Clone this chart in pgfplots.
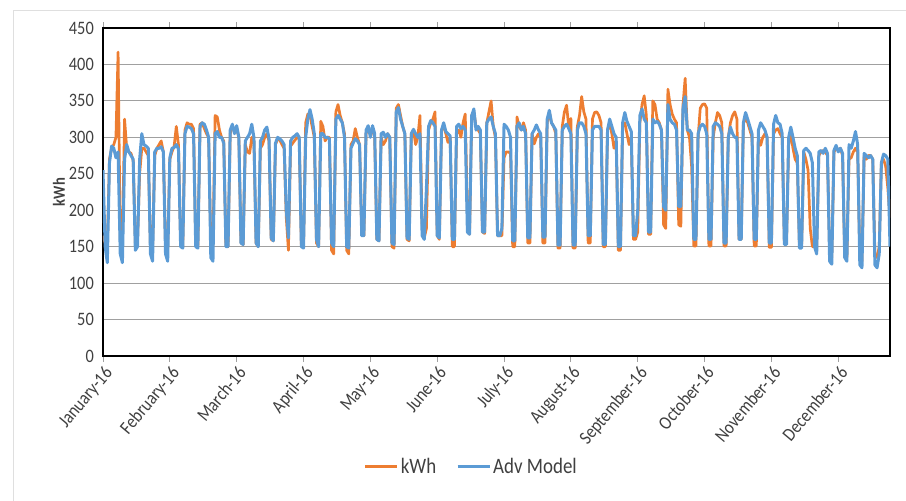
\documentclass[border=0pt]{standalone}
\usepackage{fontspec}
\setmainfont{Carlito}[FakeStretch=0.86]
\usepackage{pgfplots}
\usepackage{pgfplotstable}
\pgfplotsset{compat=1.18}

\definecolor{kwhorange}{HTML}{ED7D31}
\definecolor{advblue}{HTML}{5B9BD5}
\definecolor{txtgray}{HTML}{404040}
\definecolor{gridgray}{HTML}{A0A0A0}

% Daily consumption for 2016 (day 0 = 1 Jan) and the model estimate
\pgfplotstableread{
day kwh model
0 165 255
1 155 150
2 150 128
3 270 265
4 285 288
5 290 285
6 300 272
7 417 280
8 160 140
9 150 128
10 325 270
11 285 290
12 280 280
13 278 275
14 268 270
15 155 145
16 158 150
17 250 270
18 285 305
19 285 290
20 280 288
21 275 285
22 150 140
23 150 130
24 275 280
25 285 285
26 290 285
27 295 287
28 280 280
29 150 140
30 148 130
31 270 272
32 280 285
33 288 286
34 315 290
35 290 284
36 155 150
37 150 148
38 310 305
39 320 315
40 318 314
41 318 312
42 312 305
43 155 150
44 150 148
45 318 315
46 320 320
47 312 318
48 305 310
49 300 300
50 155 135
51 152 130
52 330 305
53 328 308
54 310 300
55 300 300
56 295 292
57 152 150
58 150 150
59 305 310
60 315 318
61 310 305
62 312 316
63 300 300
64 155 155
65 153 153
66 290 295
67 280 300
68 278 305
69 300 318
70 295 300
71 155 155
72 150 150
73 285 295
74 290 300
75 300 310
76 305 314
77 295 298
78 160 162
79 158 158
80 290 292
81 298 300
82 296 298
83 290 295
84 285 290
85 190 200
86 145 162
87 288 295
88 292 300
89 296 302
90 300 305
91 298 300
92 152 150
93 150 148
94 320 300
95 332 325
96 330 338
97 315 325
98 300 305
99 155 160
100 150 150
101 322 305
102 315 305
103 295 300
104 300 300
105 300 298
106 145 155
107 140 150
108 335 325
109 345 330
110 330 325
111 320 320
112 305 300
113 145 150
114 140 148
115 290 285
116 295 292
117 312 298
118 300 295
119 290 290
120 168 165
121 165 165
122 305 310
123 312 316
124 305 300
125 310 316
126 300 305
127 160 160
128 158 158
129 300 305
130 290 307
131 295 300
132 305 305
133 300 300
134 150 155
135 148 153
136 340 335
137 345 341
138 330 325
139 315 315
140 305 305
141 160 162
142 158 160
143 305 305
144 310 311
145 290 305
146 300 300
147 330 305
148 180 165
149 162 160
150 175 230
151 310 315
152 320 323
153 325 320
154 335 315
155 165 165
156 160 162
157 310 310
158 315 320
159 305 308
160 293 305
161 300 302
162 150 160
163 150 160
164 305 315
165 310 318
166 300 312
167 320 315
168 332 310
169 200 170
170 167 167
171 330 330
172 335 339
173 315 310
174 310 315
175 305 310
176 170 170
177 168 170
178 320 320
179 335 325
180 350 328
181 315 315
182 300 305
183 165 165
184 165 165
185 165 175
186 272 318
187 280 315
188 280 310
189 278 300
190 150 158
191 150 158
192 328 315
193 315 320
194 310 310
195 320 315
196 310 305
197 155 162
198 155 162
199 305 305
200 291 310
201 300 317
202 305 310
203 300 305
204 155 163
205 155 163
206 320 325
207 335 337
208 320 320
209 315 315
210 305 310
211 148 152
212 148 152
213 315 310
214 335 315
215 344 318
216 315 312
217 326 305
218 148 152
219 148 152
220 315 310
221 330 320
222 356 320
223 335 315
224 325 305
225 155 165
226 155 165
227 325 310
228 334 315
229 335 315
230 330 315
231 320 310
232 150 153
233 150 153
234 310 310
235 320 325
236 305 315
237 285 305
238 295 300
239 145 150
240 145 150
241 315 320
242 320 334
243 305 322
244 290 315
245 300 308
246 160 165
247 160 165
248 170 200
249 320 330
250 345 339
251 357 325
252 330 320
253 167 170
254 167 170
255 350 325
256 345 320
257 325 322
258 320 318
259 310 310
260 180 205
261 175 200
262 366 345
263 345 325
264 332 320
265 325 318
266 320 310
267 180 205
268 178 205
269 345 340
270 381 356
271 310 310
272 300 310
273 260 305
274 151 160
275 151 160
276 300 305
277 340 315
278 345 318
279 346 315
280 340 305
281 151 160
282 151 160
283 300 315
284 320 320
285 334 318
286 330 315
287 320 305
288 151 155
289 151 155
290 300 300
291 320 314
292 330 305
293 335 300
294 325 300
295 160 160
296 160 160
297 320 320
298 325 334
299 320 325
300 310 315
301 300 305
302 151 160
303 151 160
304 300 310
305 289 320
306 300 315
307 305 310
308 300 300
309 149 155
310 149 155
311 305 318
312 310 330
313 312 320
314 305 318
315 300 305
316 158 153
317 158 153
318 290 300
319 305 314
320 285 300
321 270 285
322 265 275
323 151 148
324 151 148
325 280 282
326 270 285
327 255 282
328 175 278
329 150 265
330 150 150
331 148 140
332 275 280
333 280 282
334 282 278
335 280 285
336 275 278
337 140 130
338 135 126
339 280 282
340 285 289
341 283 280
342 285 285
343 275 278
344 135 135
345 135 130
346 270 290
347 272 285
348 280 295
349 285 308
350 280 290
351 135 125
352 130 121
353 275 278
354 270 275
355 275 272
356 275 275
357 270 270
358 140 125
359 135 121
360 150 140
361 265 265
362 270 277
363 260 275
364 230 270
365 190 150
}\energy

\begin{document}
\begin{tikzpicture}
\useasboundingbox (-103pt,-145pt) rectangle (803pt,356pt);
% chart area frame
\draw[gray!25, line width=0.8pt] (-90pt,-145pt) -- (-90pt,346pt) -- (803pt,346pt);
\begin{axis}[
  scale only axis,
  width=787pt, height=328pt,
  xmin=0, xmax=365, ymin=0, ymax=450,
  xtick={0,31,...,341},
  xticklabels={January-16,February-16,March-16,April-16,May-16,June-16,July-16,August-16,September-16,October-16,November-16,December-16},
  ytick={0,50,...,450},
  ymajorgrids,
  grid style={gridgray, line width=1.1pt},
  axis line style={black, line width=1.2pt},
  tick align=outside,
  major tick length=6pt,
  x tick style={gridgray, line width=0.8pt},
  y tick style={draw=none},
  /pgf/number format/assume math mode=true,
  tick label style={font=\fontsize{19}{22}\selectfont, text=txtgray},
  xticklabel style={rotate=50, anchor=north east, inner sep=2pt},
  yticklabel style={inner sep=3pt},
  ylabel={kWh},
  ylabel style={font=\fontsize{17}{20}\selectfont\bfseries, text=txtgray,
    at={(axis description cs:-0.056,0.5)}, anchor=center},
  legend style={at={(0.468,-0.338)}, anchor=center, draw=none, fill=none,
    legend columns=2, font=\fontsize{22}{26}\selectfont, text=txtgray,
    /tikz/every even column/.append style={column sep=18pt}},
  legend image code/.code={\draw[#1, line width=3pt] (0pt,0pt) -- (32pt,0pt);},
]
\addplot[kwhorange, line width=2.7pt, line join=round, mark=none]
  table[x=day, y=kwh] {\energy};
\addplot[advblue, line width=3pt, line join=round, mark=none]
  table[x=day, y=model] {\energy};
\legend{kWh, Adv Model}
\end{axis}
\end{tikzpicture}
\end{document}
